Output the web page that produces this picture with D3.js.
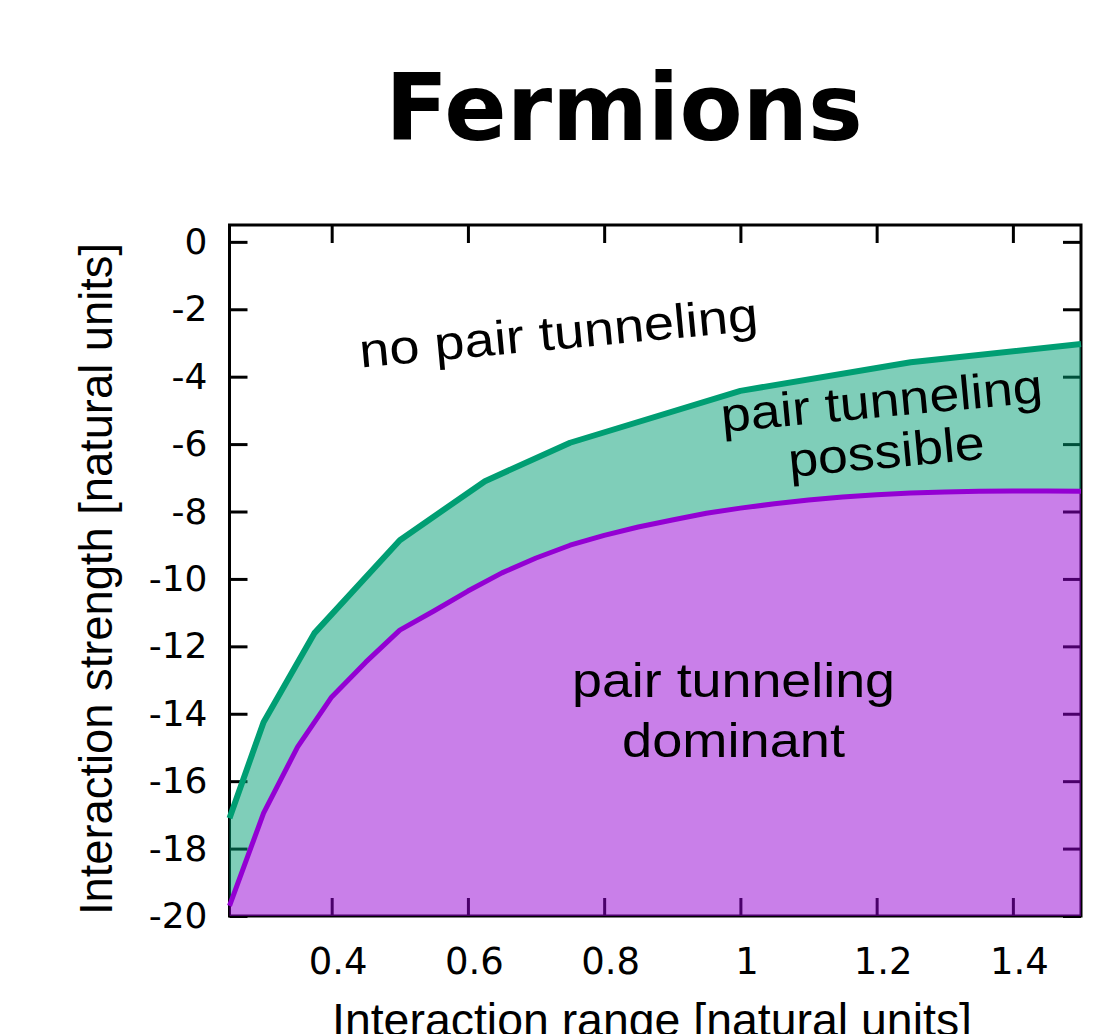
<!DOCTYPE html>
<html>
<head>
<meta charset="utf-8">
<script src="https://cdn.jsdelivr.net/npm/d3@7"></script>
<style>
  html, body { margin: 0; padding: 0; background: #ffffff; }
  svg { display: block; }
</style>
</head>
<body>
<svg id="chart" width="1094" height="1034"></svg>
<script>
// ---- data ----
const xTickValues = [0.4, 0.6, 0.8, 1.0, 1.2, 1.4];
const yTickValues = [0, -2, -4, -6, -8, -10, -12, -14, -16, -18, -20];

// upper boundary (pair tunneling possible)
const possibleX = [0.25, 0.3, 0.375, 0.5, 0.625, 0.75, 1.0, 1.25, 1.5];
const possibleY = [-17.1, -14.25, -11.6, -8.85, -7.1, -5.96, -4.42, -3.57, -3.03];

// lower boundary (pair tunneling dominant)
const dominantX = [0.25, 0.3, 0.35, 0.4, 0.45, 0.5, 0.55, 0.6, 0.65, 0.7, 0.75, 0.8, 0.85,
                   0.9, 0.95, 1.0, 1.05, 1.1, 1.15, 1.2, 1.25, 1.3, 1.35, 1.4, 1.45, 1.5];
const dominantY = [-19.7, -16.95, -14.98, -13.5, -12.47, -11.52, -10.95, -10.36, -9.82, -9.38,
                   -9.0, -8.71, -8.46, -8.25, -8.05, -7.9, -7.77, -7.66, -7.57, -7.5, -7.45,
                   -7.42, -7.4, -7.39, -7.39, -7.4];

const titleText = "Fermions";
const xTitle = "Interaction range [natural units]";
const yTitle = "Interaction strength [natural units]";

// ---- layout ----
const svg = d3.select("#chart");
const L = 229.5, R = 1081, T = 225, B = 916;

const x = d3.scaleLinear().domain([0.25, 1.5]).range([L, R]);
const y = d3.scaleLinear().domain([-20, 0.5]).range([B, T]);

const green = "#009e73", purple = "#9400d3";

// title
svg.append("text")
  .attr("x", 624).attr("y", 140)
  .attr("text-anchor", "middle")
  .attr("font-family", "DejaVu Sans").attr("font-weight", "bold")
  .attr("font-size", 92)
  .text(titleText);

// axes (drawn beneath the semi-transparent fills)
const axisG = svg.append("g");

const gl = axisG.append("g").attr("transform", `translate(${L},0)`)
  .call(d3.axisLeft(y).tickValues(yTickValues).tickSize(-18).tickPadding(22).tickFormat(d => String(d)));
const gb = axisG.append("g").attr("transform", `translate(0,${B})`)
  .call(d3.axisBottom(x).tickValues(xTickValues).tickSize(-18).tickPadding(32).tickFormat(d => String(+d.toFixed(1))));
const gr = axisG.append("g").attr("transform", `translate(${R},0)`)
  .call(d3.axisRight(y).tickValues(yTickValues).tickSize(-18).tickFormat(""));
const gt = axisG.append("g").attr("transform", `translate(0,${T})`)
  .call(d3.axisTop(x).tickValues(xTickValues).tickSize(-18).tickFormat(""));

[gl, gb, gr, gt].forEach(g => {
  g.select(".domain").remove();
  g.selectAll(".tick line").attr("stroke", "#000").attr("stroke-width", 3);
  g.selectAll("text").attr("fill", "#000")
    .attr("font-family", "DejaVu Sans").attr("font-size", 36);
});
gb.selectAll("text").attr("x", 6).attr("font-size", 37);

axisG.append("rect")
  .attr("x", L).attr("y", T).attr("width", R - L).attr("height", B - T)
  .attr("fill", "none").attr("stroke", "#000").attr("stroke-width", 3);

// data points
const possiblePts = possibleX.map((v, i) => [x(v), y(possibleY[i])]);
const dominantPts = dominantX.map((v, i) => [x(v), y(dominantY[i])]);

// green band between the two curves
const band = possiblePts.concat(dominantPts.slice().reverse());
svg.append("path")
  .attr("d", d3.line()(band) + "Z")
  .attr("fill", green).attr("fill-opacity", 0.5);

// purple region below the lower curve
svg.append("path")
  .datum(dominantX.map((v, i) => ({ x: v, y: dominantY[i] })))
  .attr("d", d3.area().x(d => x(d.x)).y0(y(-20)).y1(d => y(d.y)))
  .attr("fill", purple).attr("fill-opacity", 0.5);

// boundary lines
svg.append("path")
  .attr("d", d3.line()(possiblePts))
  .attr("fill", "none").attr("stroke", green).attr("stroke-width", 6)
  .attr("stroke-linejoin", "round");
svg.append("path")
  .attr("d", d3.line()(dominantPts))
  .attr("fill", "none").attr("stroke", purple).attr("stroke-width", 5)
  .attr("stroke-linejoin", "round");

// region labels
const lblFont = "Liberation Sans";
function label(tx, ty, rot, lines) {
  const g = svg.append("g").attr("transform", `translate(${tx},${ty}) rotate(${rot})`);
  lines.forEach((ln, i) => {
    g.append("text")
      .attr("x", 0).attr("y", i * ln.dy)
      .attr("text-anchor", "middle")
      .attr("font-family", lblFont).attr("font-size", 48)
      .attr("textLength", ln.w).attr("lengthAdjust", "spacingAndGlyphs")
      .text(ln.t);
  });
  return g;
}
label(560, 349, -5.3, [{ t: "no pair tunneling", w: 400, dy: 0 }]);
label(883, 417, -5.3, [{ t: "pair tunneling", w: 323, dy: 0 }, { t: "possible", w: 197, dy: 51 }]);
label(733.5, 697, 0, [{ t: "pair tunneling", w: 323, dy: 0 }, { t: "dominant", w: 223, dy: 60 }]);

// axis titles
svg.append("text")
  .attr("transform", `translate(112,579) rotate(-90)`)
  .attr("text-anchor", "middle")
  .attr("font-family", "Liberation Sans").attr("font-size", 46)
  .attr("textLength", 672).attr("lengthAdjust", "spacingAndGlyphs")
  .text(yTitle);
svg.append("text")
  .attr("x", 652).attr("y", 1036)
  .attr("text-anchor", "middle")
  .attr("font-family", "Liberation Sans").attr("font-size", 46)
  .attr("textLength", 640).attr("lengthAdjust", "spacingAndGlyphs")
  .text(xTitle);
</script>
</body>
</html>
